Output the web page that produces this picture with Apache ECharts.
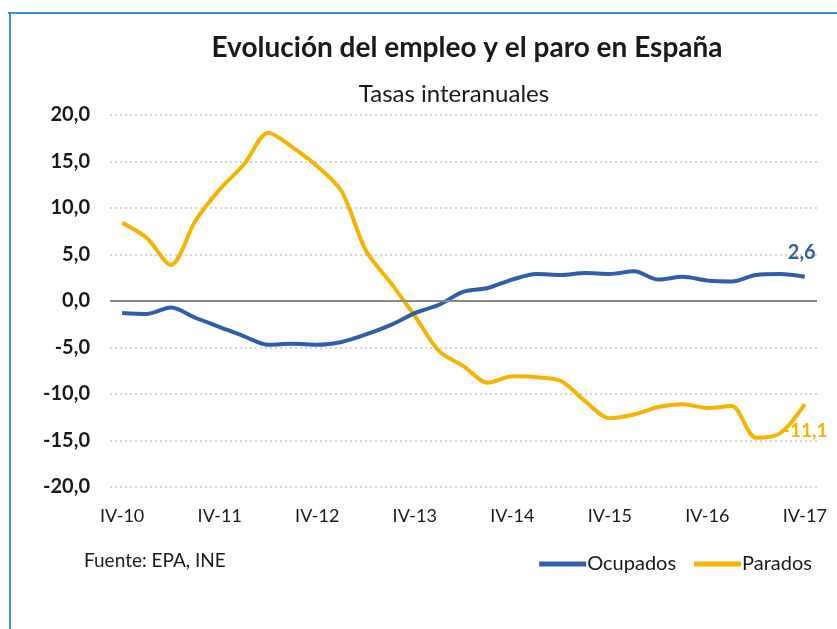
<!DOCTYPE html>
<html>
<head>
<meta charset="utf-8">
<script src="https://cdn.jsdelivr.net/npm/echarts@6/dist/echarts.min.js"></script>
<style>
  html, body { margin: 0; padding: 0; background: #fff; }
  #chart { width: 837px; height: 629px; }
</style>
</head>
<body>
<div id="chart"></div>
<script>
  // trimestres IV-10 ... IV-17
  const quarters = [
    'IV-10', 'I-11', 'II-11', 'III-11', 'IV-11', 'I-12', 'II-12', 'III-12',
    'IV-12', 'I-13', 'II-13', 'III-13', 'IV-13', 'I-14', 'II-14', 'III-14',
    'IV-14', 'I-15', 'II-15', 'III-15', 'IV-15', 'I-16', 'II-16', 'III-16',
    'IV-16', 'I-17', 'II-17', 'III-17', 'IV-17'
  ]
  const ocupados = [
    -1.3, -1.4, -0.7, -1.8, -2.8, -3.8, -4.7, -4.6,
    -4.7, -4.4, -3.6, -2.6, -1.3, -0.4, 1.0, 1.4,
    2.3, 2.9, 2.8, 3.0, 2.9, 3.2, 2.3, 2.6,
    2.2, 2.1, 2.8, 2.9, 2.6
  ]
  const parados = [
    8.4, 6.8, 3.9, 8.6, 12.0, 14.7, 18.1, 16.5,
    14.5, 11.8, 5.4, 2.0, -1.6, -5.4, -7.0, -8.8,
    -8.1, -8.2, -8.6, -10.8, -12.6, -12.2, -11.4, -11.1,
    -11.5, -11.3, -14.7, -14.2, -11.1
  ]
  const yTicks = { min: -20, max: 20, interval: 5 }

  const fmt = (v) => v.toFixed(1).replace('.', ',')
  const blue = '#2f5fa8'
  const yellow = '#f6b400'
  const font = 'Lato, "Open Sans", sans-serif'

  const chart = echarts.init(document.getElementById('chart'))
  chart.setOption({
    backgroundColor: '#ffffff',
    animation: false,
    title: [
      {
        text: 'Evolución del empleo y el paro en España',
        left: 462, top: 29, textAlign: 'center',
        textStyle: { fontFamily: font, fontSize: 28, fontWeight: 'bold', color: '#1a1a1a' }
      },
      {
        text: 'Tasas interanuales',
        left: 449, top: 77, textAlign: 'center',
        textStyle: { fontFamily: font, fontSize: 24, fontWeight: 'normal', color: '#1a1a1a' }
      },
      {
        text: 'Fuente: EPA, INE',
        left: 79, top: 546,
        textStyle: { fontFamily: font, fontSize: 19, fontWeight: 'normal', color: '#1a1a1a' }
      }
    ],
    graphic: [
      { type: 'rect', shape: { x: 8, y: 12, width: 829, height: 2 }, style: { fill: '#3a8fd6' } },
      { type: 'rect', shape: { x: 9, y: 12, width: 2, height: 617 }, style: { fill: '#3a8fd6' } }
    ],
    legend: {
      right: 20, top: 549,
      icon: 'rect', itemWidth: 47, itemHeight: 5, itemGap: 18,
      textStyle: { fontFamily: font, fontSize: 20, color: '#1a1a1a', padding: [0, 0, 0, -4] },
      data: ['Ocupados', 'Parados']
    },
    grid: { left: 110, right: 20, top: 115, bottom: 142 },
    xAxis: {
      type: 'category',
      boundaryGap: true,
      data: quarters,
      axisLine: { show: false },
      axisTick: { show: false },
      axisLabel: {
        interval: 3, margin: 20,
        fontFamily: font, fontSize: 18, color: '#1a1a1a'
      }
    },
    yAxis: {
      type: 'value',
      min: yTicks.min, max: yTicks.max, interval: yTicks.interval,
      axisLine: { show: false },
      axisTick: { show: false },
      axisLabel: {
        margin: 20, formatter: fmt,
        fontFamily: font, fontSize: 20, fontWeight: 'bold', color: '#1a1a1a'
      },
      splitLine: { lineStyle: { color: '#c8c8c8', type: [2, 3], width: 1.5 } }
    },
    series: [
      {
        name: 'Ocupados', type: 'line', data: ocupados,
        smooth: 0.3, showSymbol: false, color: blue,
        lineStyle: { width: 4, color: blue },
        endLabel: {
          show: true, formatter: (p) => fmt(p.value), offset: [-25, -24],
          fontFamily: font, fontSize: 20, fontWeight: 'bold', color: blue
        },
        markLine: {
          silent: true, symbol: 'none', label: { show: false },
          lineStyle: { color: '#8a8a8a', type: 'solid', width: 2 },
          data: [{ yAxis: 0 }]
        },
        z: 3
      },
      {
        name: 'Parados', type: 'line', data: parados,
        smooth: 0.3, showSymbol: false, color: yellow,
        lineStyle: { width: 4, color: yellow },
        endLabel: {
          show: true, formatter: (p) => fmt(p.value), offset: [-30, 27],
          fontFamily: font, fontSize: 19, fontWeight: 'bold', color: yellow
        },
        z: 2
      }
    ]
  })
</script>
</body>
</html>
